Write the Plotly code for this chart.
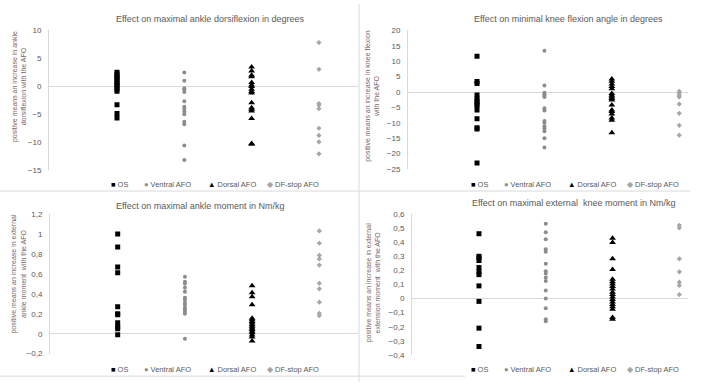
import plotly.graph_objects as go

W, H = 707, 387

categories = ["OS", "Ventral AFO", "Dorsal AFO", "DF-stop AFO"]
cat_x = [1, 2, 3, 4]

# Panel 1: maximal ankle dorsiflexion (degrees)
p1_os = [2.5, 2.2, 1.8, 1.5, 1.2, 0.8, 0.5, 0.2, -0.2, -0.5, -0.9, -3.3, -4.9, -5.7]
p1_ventral = [2.45, 1.0, -0.35, -0.64, -1.05, -2.7, -3.67, -4.0, -4.5, -5.0, -6.35, -6.8, -10.6, -13.2]
p1_dorsal = [3.44, 2.74, 1.98, 1.69, 0.65, 0.23, -0.06, -0.52, -0.93, -1.22, -2.97, -3.85, -4.14, -4.42, -5.77, -10.26, -10.4]
p1_dfstop = [7.81, 3.03, -3.09, -3.38, -4.02, -7.52, -8.8, -9.97, -12.1]

# Panel 2: minimal knee flexion angle (degrees)
p2_os = [11.6, 3.4, 2.8, -1.0, -2.3, -3.0, -3.8, -4.4, -5.8, -8.7, -11.6, -12.0, -23.0]
p2_ventral = [13.4, 2.1, -0.2, -0.7, -1.2, -1.6, -5.3, -6.0, -9.4, -10.0, -11.1, -11.8, -12.7, -15.0, -18.0]
p2_dorsal = [4.2, 3.5, 2.6, 1.8, 1.06, -0.5, -1.06, -1.6, -2.1, -2.6, -4.2, -5.8, -6.3, -7.1, -8.4, -9.2, -13.2]
p2_dfstop = [0.25, -0.4, -1.06, -1.6, -3.9, -6.9, -10.8, -14.0]

# Panel 3: maximal ankle moment (Nm/kg)
p3_os = [1.0, 0.87, 0.67, 0.61, 0.27, 0.20, 0.19, 0.11, 0.07, 0.05, -0.01]
p3_ventral = [0.57, 0.52, 0.50, 0.46, 0.42, 0.36, 0.34, 0.31, 0.29, 0.26, 0.24, 0.22, 0.20, -0.05]
p3_dorsal = [0.48, 0.41, 0.37, 0.29, 0.156, 0.14, 0.123, 0.107, 0.091, 0.074, 0.058, 0.042, 0.025, 0.009, -0.014, -0.033, -0.072]
p3_dfstop = [1.03, 0.907, 0.786, 0.75, 0.688, 0.505, 0.45, 0.316, 0.205, 0.182]

# Panel 4: maximal external knee moment (Nm/kg)
p4_os = [0.46, 0.30, 0.29, 0.27, 0.22, 0.19, 0.17, 0.09, -0.02, -0.21, -0.34]
p4_ventral = [0.53, 0.47, 0.42, 0.35, 0.333, 0.247, 0.194, 0.178, 0.15, 0.125, 0.058, 0.0, -0.069, -0.146, -0.161]
p4_dorsal = [0.428, 0.398, 0.282, 0.206, 0.137, 0.12, 0.104, 0.086, 0.067, 0.044, 0.028, 0.012, -0.007, -0.025, -0.042, -0.058, -0.076, -0.134, -0.146]
p4_dfstop = [0.52, 0.502, 0.282, 0.19, 0.116, 0.093, 0.028]

titles = [
    "Effect on maximal ankle dorsiflexion in degrees",
    "Effect on minimal knee flexion angle in degrees",
    "Effect on maximal ankle moment in Nm/kg",
    "Effect on maximal external  knee moment in Nm/kg",
]
ytitles = [
    "positive means an increase in ankle<br>dorsiflexion with the AFO",
    "positive means an increase in knee flexion<br>with the AFO",
    "positive means an increase in external<br>ankle moment  with the AFO",
    "positive means an increase in external<br>extension moment  with the AFO",
]
y_ranges = [(-15, 10), (-25, 20), (-0.2, 1.2), (-0.4, 0.6)]
y_dtick = [5, 5, 0.2, 0.1]

panels = [
    [p1_os, p1_ventral, p1_dorsal, p1_dfstop],
    [p2_os, p2_ventral, p2_dorsal, p2_dfstop],
    [p3_os, p3_ventral, p3_dorsal, p3_dfstop],
    [p4_os, p4_ventral, p4_dorsal, p4_dfstop],
]

# layout geometry in pixels: (axis x, right x, top y, bottom y, x-range)
geom = [
    (49, 358, 27, 170, (-0.01, 4.58)),
    (408, 688, 27, 169, (-0.024, 4.13)),
    (50, 359, 215, 358, (-0.007, 4.59)),
    (412, 688, 215, 359.3, (-0.003, 4.13)),
]
title_pos = [(210, 15), (568, 15), (200, 207), (573, 204)]
ytitle_pos = [(19, 85), (372, 94), (18, 276), (373, 285)]
legend_pos = [(112, 185), (472, 185), (112, 374), (472, 374)]

styles = [
    dict(symbol="square", size=5, color="#000000"),
    dict(symbol="circle", size=4, color="#8c8c8c"),
    dict(symbol="triangle-up", size=6, color="#000000"),
    dict(symbol="diamond", size=4, color="#a6a6a6"),
]
legend_glyph = ["■", "●", "▲", "◆"]
legend_glyph_color = ["#000000", "#8c8c8c", "#000000", "#a6a6a6"]
legend_offsets = [0, 33, 97, 156]

FONT = "Liberation Sans"
TXT = "#595959"

fig = go.Figure()
annotations = []
shapes = []

for i, series in enumerate(panels):
    ax = "" if i == 0 else str(i + 1)
    ax0, ax1, top, bot, xr = geom[i]
    for j, vals in enumerate(series):
        fig.add_trace(go.Scatter(
            x=[cat_x[j]] * len(vals), y=vals, mode="markers",
            name=categories[j], showlegend=False,
            marker=dict(symbol=styles[j]["symbol"], size=styles[j]["size"],
                        color=styles[j]["color"], line=dict(width=0)),
            xaxis="x" + ax, yaxis="y" + ax,
        ))
    fig.layout["xaxis" + ax] = dict(
        domain=[ax0 / W, ax1 / W], range=list(xr), anchor="y" + ax,
        showticklabels=False, showgrid=False, zeroline=False, showline=False,
        fixedrange=True,
    )
    fig.layout["yaxis" + ax] = dict(
        domain=[1 - bot / H, 1 - top / H], range=list(y_ranges[i]), anchor="x" + ax,
        dtick=y_dtick[i], showgrid=False, zeroline=True, zerolinecolor="#d9d9d9",
        zerolinewidth=1, showline=True, linecolor="#d9d9d9", linewidth=1,
        ticks="", ticklabelstandoff=5,
        tickfont=dict(family=FONT, size=8, color=TXT),
    )
    tx, ty = title_pos[i]
    annotations.append(dict(
        text=titles[i], x=tx / W, y=1 - ty / H, xref="paper", yref="paper",
        xanchor="center", yanchor="middle", showarrow=False,
        font=dict(family=FONT, size=9, color=TXT),
    ))
    yx, yy = ytitle_pos[i]
    annotations.append(dict(
        text=ytitles[i], x=yx / W, y=1 - yy / H, xref="paper", yref="paper",
        xanchor="center", yanchor="middle", showarrow=False, textangle=-90,
        font=dict(family=FONT, size=7, color="#7a6464"),
    ))
    lx, ly = legend_pos[i]
    for j in range(4):
        annotations.append(dict(
            text=f"<span style='color:{legend_glyph_color[j]}'>{legend_glyph[j]}</span> {categories[j]}",
            x=(lx + legend_offsets[j] - 3) / W, y=1 - ly / H, xref="paper", yref="paper",
            xanchor="left", yanchor="middle", showarrow=False,
            font=dict(family=FONT, size=7.5, color=TXT),
        ))

# chart-area borders between panels
border = dict(type="line", xref="paper", yref="paper", line=dict(color="#d9d9d9", width=1))
shapes.append(dict(border, x0=359 / W, x1=359 / W, y0=0, y1=1))
shapes.append(dict(border, x0=0, x1=690 / W, y0=1 - 191.5 / H, y1=1 - 191.5 / H))
shapes.append(dict(border, x0=0, x1=465 / W, y0=1 - 381 / H, y1=1 - 381 / H))

fig.update_layout(
    width=W, height=H, margin=dict(l=0, r=0, t=0, b=0),
    paper_bgcolor="white", plot_bgcolor="white",
    annotations=annotations, shapes=shapes,
    separators=", ",
    font=dict(family=FONT, color=TXT),
    hovermode=False,
)

fig.write_html(
    "out.html",
    config={"displayModeBar": False, "staticPlot": True},
    post_script="document.body.style.margin='0px';document.body.style.overflow='hidden';",
)
